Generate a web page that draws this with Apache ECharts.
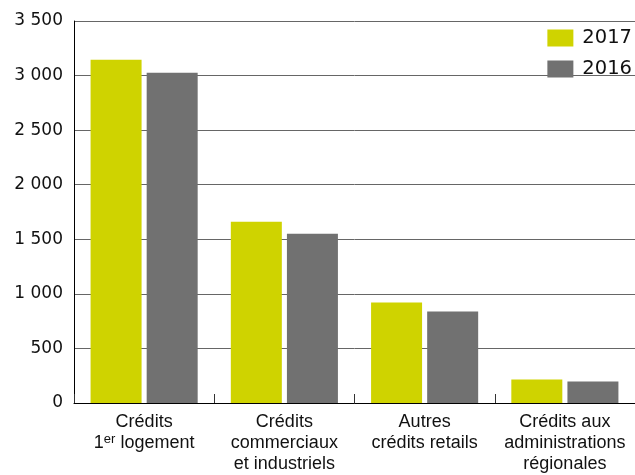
<!DOCTYPE html>
<html>
<head>
<meta charset="utf-8">
<script src="https://cdn.jsdelivr.net/npm/echarts@6/dist/echarts.min.js"></script>
<style>
html,body{margin:0;padding:0;background:#fff;}
#chart{width:635px;height:475px;}
</style>
</head>
<body>
<div id="chart"></div>
<script>
const categories = [
  "Crédits\n1{sup|er} logement",
  "Crédits\ncommerciaux\net industriels",
  "Autres\ncrédits retails",
  "Crédits aux\nadministrations\nrégionales"
];
const seriesNames = ["2017", "2016"];
const values2017 = [3145, 1660, 920, 215];
const values2016 = [3025, 1550, 838, 197];
const yMin = 0, yMax = 3500, yInterval = 500;

const chart = echarts.init(document.getElementById('chart'), null, {renderer: 'canvas'});
chart.setOption({
  animation: false,
  backgroundColor: '#ffffff',
  grid: {left: 74, right: 0, top: 21, bottom: 71.5, containLabel: false},
  legend: {
    orient: 'vertical',
    right: -2,
    top: 23,
    icon: 'rect',
    itemWidth: 26,
    itemHeight: 17,
    itemGap: 11,
    data: seriesNames,
    textStyle: {fontFamily: 'DejaVu Sans', fontSize: 19.5, color: '#111', padding: [0, 0, 0, 4]}
  },
  xAxis: {
    type: 'category',
    data: categories,
    axisLine: {show: true, lineStyle: {color: '#000', width: 1}},
    axisTick: {show: true, inside: true, length: 9, interval: 0, lineStyle: {color: '#333'}},
    axisLabel: {
      interval: 0,
      margin: 9,
      fontFamily: 'Liberation Sans',
      fontSize: 18,
      lineHeight: 21,
      color: '#111',
      align: 'center',
      rich: {
        sup: {fontFamily: 'Liberation Sans', fontSize: 13, lineHeight: 21, verticalAlign: 'top', color: '#111'}
      }
    },
    splitLine: {show: false}
  },
  yAxis: {
    type: 'value',
    min: yMin,
    max: yMax,
    interval: yInterval,
    axisLine: {show: true, lineStyle: {color: '#000', width: 1}},
    axisTick: {show: false},
    axisLabel: {
      margin: 11,
      fontFamily: 'DejaVu Sans',
      fontSize: 17,
      color: '#111',
      formatter: function (v) {
        return String(v).replace(/\B(?=(\d{3})+(?!\d))/g, ' ');
      }
    },
    splitLine: {show: true, lineStyle: {color: '#666', width: 1}}
  },
  series: [
    {name: seriesNames[0], type: 'bar', data: values2017, barWidth: 51, barGap: '10%',
     itemStyle: {color: '#CFD300'}},
    {name: seriesNames[1], type: 'bar', data: values2016, barWidth: 51, barGap: '10%',
     itemStyle: {color: '#717171'}}
  ]
});
</script>
</body>
</html>
